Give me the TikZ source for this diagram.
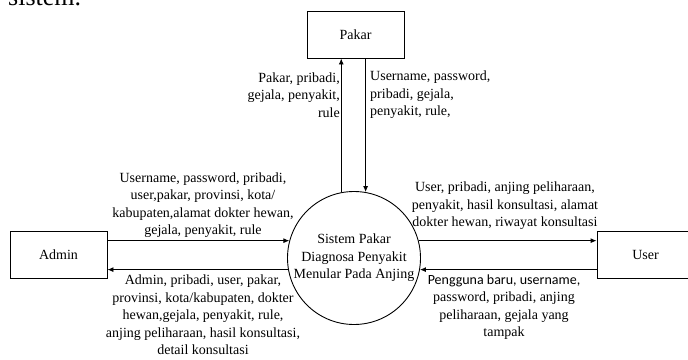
\documentclass[tikz,border=0pt]{standalone}
\usepackage{fontspec}
\setmainfont{Liberation Serif}
\newfontfamily\calfont{Carlito}
\usetikzlibrary{arrows.meta}
\begin{document}
\begin{tikzpicture}[x=1pt,y=-1pt,
  lbl/.style={font=\fontsize{14}{17.4}\selectfont, inner sep=0pt},
  entity/.style={draw, line width=0.9pt, minimum width=97pt, minimum height=47pt, inner sep=0pt, font=\fontsize{14}{17}\selectfont},
  proc/.style={draw, line width=0.9pt, circle, minimum size=133pt, inner sep=0pt, align=center, font=\fontsize{14}{17.5}\selectfont},
  arr/.style={line width=0.9pt, -{Latex[length=6pt,width=5pt]}}]
\useasboundingbox (0,0) rectangle (688,359);
\clip (0,0) rectangle (688,359);
\node[anchor=base west, inner sep=0pt, font=\fontsize{26}{30}\selectfont] (sistem) at (8,5.5) {sistem.};
\node[entity] (pakar) at (355.5,34.5) {Pakar};
\node[entity] (admin) at (58.5,254.5) {Admin};
\node[entity] (user) at (645.5,254.5) {User};
\node[proc] (sys) at (354,258) {Sistem Pakar\\Diagnosa Penyakit\\Menular Pada Anjing};
% Pakar
\draw[arr] (sys.101) -- (sys.101 |- pakar.south);
\draw[arr] (sys.80 |- pakar.south) -- (sys.80);
% Admin
\draw[arr] (sys.165 -| admin.east) -- (sys.165);
\draw[arr] (sys.190) -- (sys.190 -| admin.east);
% User
\draw[arr] (sys.15) -- (sys.15 -| user.west);
\draw[arr] (sys.350 -| user.west) -- (sys.350);
% labels
\node[lbl, anchor=east, align=right] (lpk1) at (340,95) {Pakar, pribadi,\\gejala, penyakit,\\rule};
\node[lbl, anchor=west, align=left] (lpk2) at (370,95) {Username, password,\\pribadi, gejala,\\penyakit, rule,};
\node[lbl, align=center] (lad1) at (203,205) {Username, password, pribadi,\\user,pakar, provinsi, kota/\\kabupaten,alamat dokter hewan,\\gejala, penyakit, rule};
\node[lbl, align=center] (lad2) at (203,315) {Admin, pribadi, user, pakar,\\provinsi, kota/kabupaten, dokter\\hewan,gejala, penyakit, rule,\\anjing peliharaan, hasil konsultasi,\\detail konsultasi};
\node[lbl, align=center] (lus1) at (505,206) {User, pribadi, anjing peliharaan,\\penyakit, hasil konsultasi, alamat\\dokter hewan, riwayat konsultasi};
\node[lbl, align=center] (lus2) at (504,307) {{\calfont Pengguna baru, username,}\\password, pribadi, anjing\\peliharaan, gejala yang\\tampak};
\end{tikzpicture}
\end{document}
